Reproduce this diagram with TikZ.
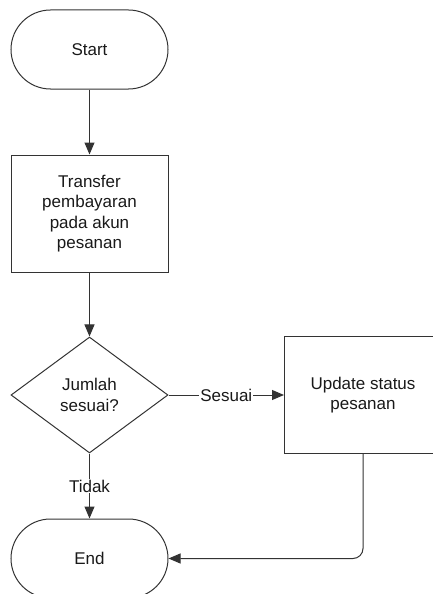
\documentclass[tikz,border=0pt]{standalone}
\usepackage{fontspec}
\setmainfont{Liberation Sans}
\usetikzlibrary{shapes.geometric,arrows.meta}
\begin{document}
\begin{tikzpicture}[x=1pt,y=-1pt,
  base/.style={draw=black!80, line width=1pt, text=black!90, align=center,
    font=\fontsize{17}{20.5}\selectfont, inner sep=0pt},
  terminal/.style={base, minimum width=157pt, minimum height=79pt, rounded corners=39.5pt},
  process/.style={base, minimum width=157pt, minimum height=117pt},
  decision/.style={base, diamond, minimum width=157pt, minimum height=116pt},
  flow/.style={draw=black!80, line width=1pt, -{Triangle[length=12pt,width=10pt]}},
  lbl/.style={fill=white, text=black!90, inner sep=1pt, font=\fontsize{17}{20}\selectfont}]
\useasboundingbox (0,0) rectangle (433,594);
\clip (0,0) rectangle (433,594);

% shapes
\node[terminal] (start) at (89.5,49.5) {Start};
\node[process] (transfer) at (89.5,213.5) {Transfer\\pembayaran\\pada akun\\pesanan};
\node[decision] (check) at (89.5,395) {Jumlah\\sesuai?};
\node[process] (update) at (363,395) {Update status\\pesanan};
\node[terminal] (end) at (89.5,558.5) {End};

% connectors
\draw[flow] (start) -- (transfer);
\draw[flow] (transfer) -- (check);
\draw[flow] (check) -- node[lbl] {Sesuai} (update);
\draw[flow] (check) -- node[lbl] {Tidak} (end);
\draw[flow, rounded corners=10pt] (update.south) |- (end.east);
\end{tikzpicture}
\end{document}
